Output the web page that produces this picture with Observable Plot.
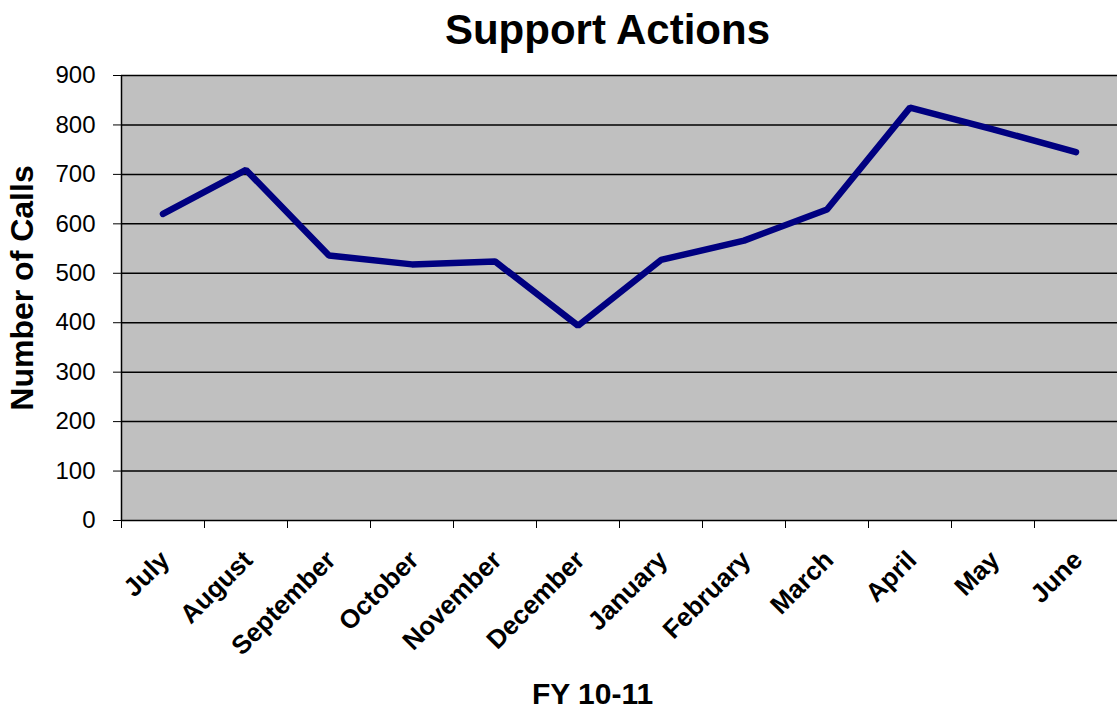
<!DOCTYPE html>
<html>
<head>
<meta charset="utf-8">
<script src="https://cdn.jsdelivr.net/npm/d3@7"></script>
<script src="https://cdn.jsdelivr.net/npm/@observablehq/plot@0.6"></script>
<style>
  html, body { margin: 0; padding: 0; background: #fff; }
  #title {
    width: 1117px; height: 60px; line-height: 60px; box-sizing: border-box;
    padding-left: 98px; text-align: center;
    font-family: "Liberation Sans", Arial, sans-serif; font-weight: bold; font-size: 42px;
    color: #000;
  }
  #chart svg { display: block; }
</style>
</head>
<body>
<div id="title">Support Actions</div>
<div id="chart"></div>
<script>
const months = ["July", "August", "September", "October", "November", "December",
                "January", "February", "March", "April", "May", "June"];
const calls = [620, 709, 536, 518, 524, 394, 527, 566, 629, 835, 791, 745];
const yTicks = [0, 100, 200, 300, 400, 500, 600, 700, 800, 900];
const xLabel = "FY 10-11";
const yLabel = "Number of Calls";

const data = months.map((m, i) => ({i, month: m, calls: calls[i]}));
const idx = months.map((_, i) => i);
const boundaries = d3.range(-0.5, months.length, 1);

const font = "'Liberation Sans', Arial, sans-serif";

const chart = Plot.plot({
  width: 1117,
  height: 652,
  marginTop: 15,
  marginBottom: 192,
  marginLeft: 121,
  marginRight: 0,
  style: {fontFamily: font, color: "#000", background: "#fff"},
  x: {type: "linear", domain: [-0.5, months.length - 0.5]},
  y: {domain: [0, 900]},
  marks: [
    Plot.frame({fill: "#c0c0c0", stroke: "#808080", strokeWidth: 1}),
    Plot.gridY(yTicks.filter(d => d > 0), {stroke: "#000", strokeOpacity: 1, strokeWidth: 1.5}),
    Plot.ruleX([-0.5], {stroke: "#000", strokeWidth: 1.5}),
    Plot.ruleY([0], {stroke: "#000", strokeWidth: 1.5}),
    Plot.axisY({ticks: yTicks, tickSize: 8, tickPadding: 18, fontSize: 24, label: null, stroke: "#000"}),
    Plot.axisX({ticks: boundaries, tickSize: 8, tickFormat: () => "", label: null, stroke: "#000"}),
    Plot.text(idx, {
      x: d => d, text: d => months[d], frameAnchor: "bottom",
      rotate: -45, textAnchor: "end", lineAnchor: "top",
      dx: -5, dy: 28, fontSize: 26, fontWeight: "bold"
    }),
    Plot.line(data, {x: "i", y: "calls", stroke: "#000080", strokeWidth: 6.5,
      strokeLinejoin: "miter", strokeLinecap: "round"}),
    Plot.text([yLabel], {frameAnchor: "left", rotate: -90, dx: -99, dy: -10, textAnchor: "middle",
      fontSize: 32, fontWeight: "bold"}),
    Plot.text([xLabel], {frameAnchor: "bottom", dx: -27, dy: 183,
      fontSize: 30, fontWeight: "bold"})
  ]
});
document.getElementById("chart").appendChild(chart);
</script>
</body>
</html>
